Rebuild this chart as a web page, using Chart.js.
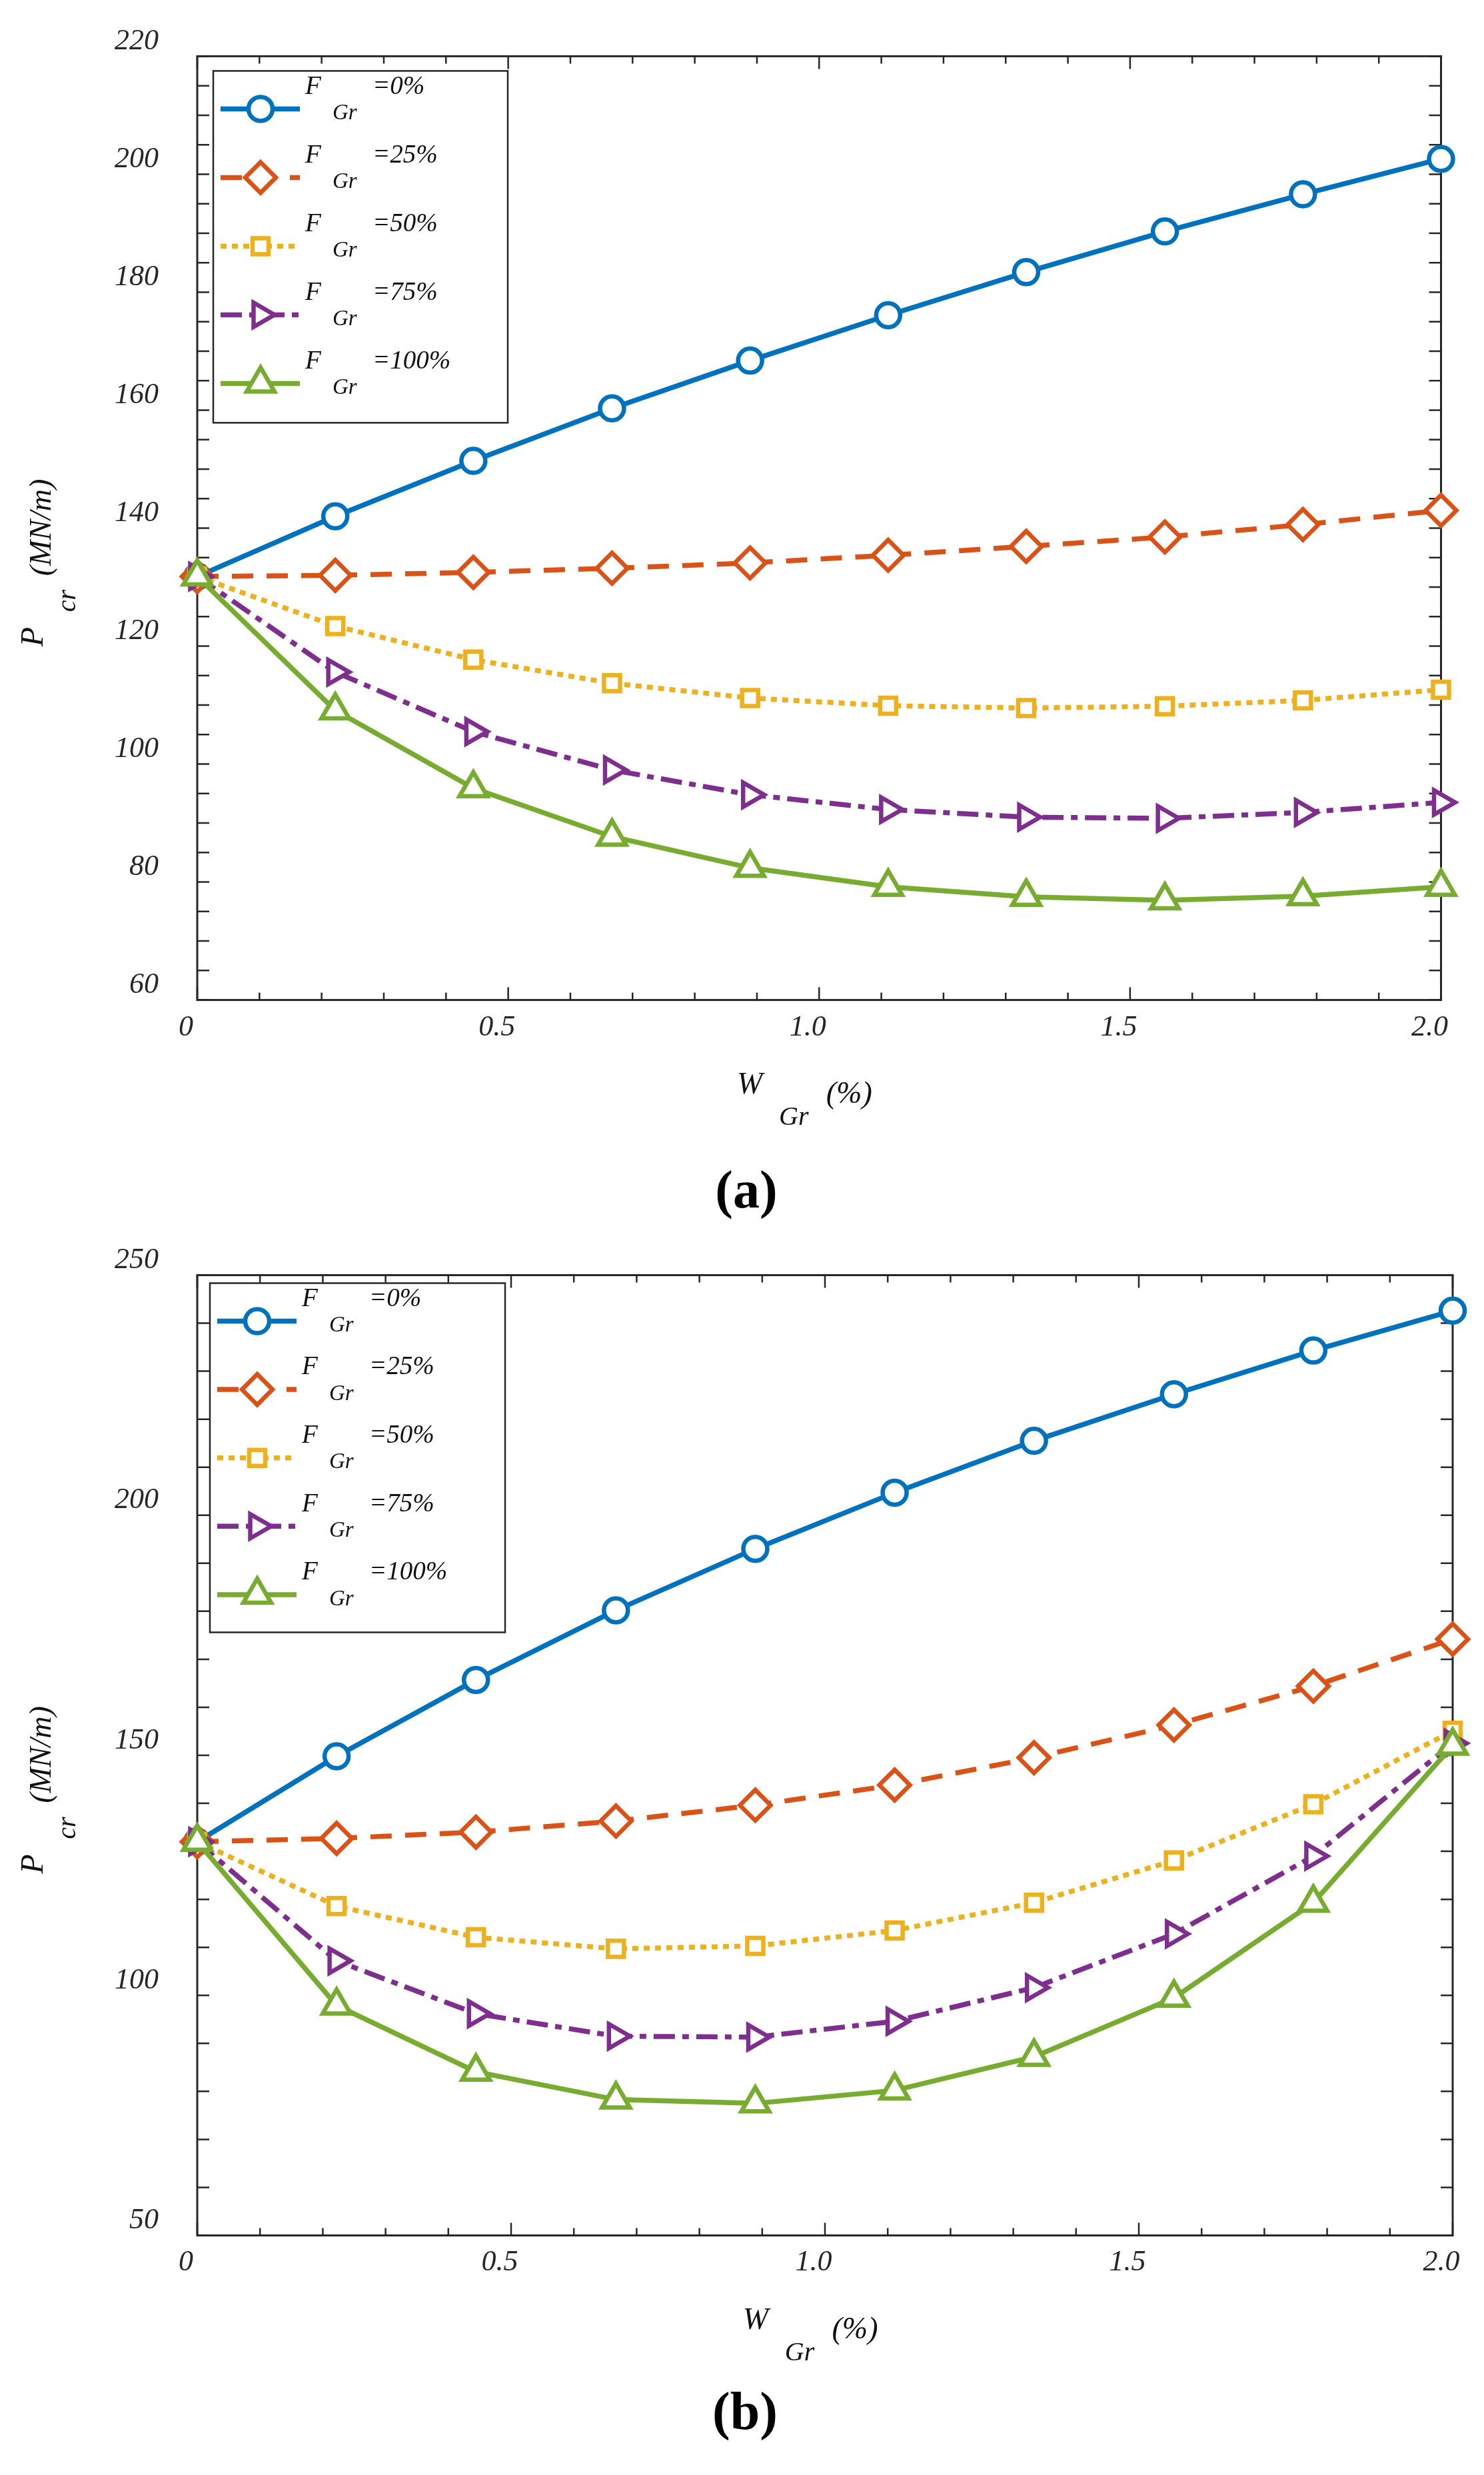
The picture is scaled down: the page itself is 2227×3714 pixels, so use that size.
<!DOCTYPE html>
<html>
<head>
<meta charset="utf-8">
<script src="https://cdn.jsdelivr.net/npm/chart.js@4.4.1/dist/chart.umd.min.js"></script>
<style>
  html, body { margin: 0; padding: 0; background: #fff; }
  #page { position: relative; width: 2227px; height: 3714px; overflow: hidden; background: #fff; }
  canvas { position: absolute; left: 0; }
  .cap { position: absolute; font-family: "Liberation Serif", serif; font-weight: bold; font-size: 80px;
         line-height: 1; color: #000; transform: translate(-50%, -50%); z-index: 2; }
</style>
</head>
<body>
<div id="page">
  <canvas id="chartA" width="2227" height="1720" style="top:0px;width:2227px;height:1720px"></canvas>
  <canvas id="chartB" width="2227" height="1780" style="top:1800px;width:2227px;height:1780px"></canvas>
  <div class="cap" style="left:1120px;top:1785px">(a)</div>
  <div class="cap" style="left:1118px;top:3618px">(b)</div>
</div>
<script>
// x values: W_Gr (%)
const X_WGR = [0, 0.222, 0.444, 0.667, 0.889, 1.111, 1.333, 1.556, 1.778, 2.0];
const X_TICKS = [0, 0.5, 1.0, 1.5, 2.0];
const LEGEND_LABELS = ['=0%', '=25%', '=50%', '=75%', '=100%'];

// (a)
const A_YTICKS = [60, 80, 100, 120, 140, 160, 180, 200, 220];
const A_F0   = [131.8, 142.0, 151.4, 160.3, 168.4, 176.1, 183.4, 190.3, 196.6, 202.6];
const A_F25  = [131.8, 132.0, 132.5, 133.2, 134.1, 135.4, 136.9, 138.5, 140.6, 143.0];
const A_F50  = [131.8, 123.4, 117.7, 113.7, 111.2, 109.9, 109.5, 109.8, 110.8, 112.6];
const A_F75  = [131.8, 115.6, 105.5, 99.0, 94.8, 92.3, 91.0, 90.8, 91.8, 93.5];
const A_F100 = [131.8, 109.1, 95.9, 87.7, 82.4, 79.2, 77.5, 76.9, 77.6, 79.2];

// (b)
const B_YTICKS = [50, 100, 150, 200, 250];
const B_F0   = [132.0, 149.8, 165.7, 180.2, 193.0, 204.7, 215.5, 225.2, 234.3, 242.6];
const B_F25  = [132.0, 132.7, 134.0, 136.3, 139.6, 143.8, 149.5, 156.3, 164.4, 174.2];
const B_F50  = [132.0, 118.6, 112.1, 109.7, 110.3, 113.5, 119.3, 128.1, 139.8, 155.1];
const B_F75  = [132.0, 107.2, 96.2, 91.5, 91.3, 94.6, 101.6, 112.8, 129.0, 152.5];
const B_F100 = [132.0, 97.9, 84.1, 78.3, 77.5, 80.2, 87.2, 99.5, 119.3, 152.0];

const SERIF = '"Liberation Serif", "Times New Roman", serif';
const AXIS_COLOR = '#262626';

const STYLES = [
  { color: '#0072BD', pointStyle: 'circle',   radius: 18, rotation: 0,  dash: [] },
  { color: '#D95319', pointStyle: 'rectRot',  radius: 23, rotation: 0,  dash: [32, 20] },
  { color: '#EDB120', pointStyle: 'rect',     radius: 17, rotation: 0,  dash: [9, 8] },
  { color: '#7E2F8E', pointStyle: 'triangle', radius: 21, rotation: 90, dash: [32, 11, 10, 11] },
  { color: '#77AC30', pointStyle: 'triangle', radius: 24, rotation: 0,  dash: [] }
];

function makeDatasets(series) {
  return series.map((vals, i) => {
    const s = STYLES[i];
    return {
      label: LEGEND_LABELS[i],
      data: vals.map((v, k) => ({ x: X_WGR[k], y: v })),
      borderColor: s.color,
      borderWidth: 7.5,
      borderDash: s.dash,
      borderCapStyle: 'butt',
      tension: 0,
      pointStyle: s.pointStyle,
      pointRadius: s.radius,
      pointRotation: s.rotation,
      pointBorderWidth: 6.5,
      pointBorderColor: s.color,
      pointBackgroundColor: '#fff',
      clip: false,
      order: 5 - i   // last series drawn on top, like the original
    };
  });
}

// box with inward ticks on all four sides
const framePlugin = {
  id: 'frame',
  beforeDatasetsDraw(chart, args, o) {
    const { ctx, chartArea: a, scales: { x, y } } = chart;
    ctx.save();
    ctx.strokeStyle = AXIS_COLOR;
    ctx.lineWidth = 3;
    ctx.setLineDash([]);
    ctx.strokeRect(a.left, a.top, a.right - a.left, a.bottom - a.top);
    ctx.beginPath();
    for (let i = 0; i <= 20; i++) {
      const px = x.getPixelForValue(i / 10);
      const len = i % 5 === 0 ? 19 : 11;
      ctx.moveTo(px, a.bottom); ctx.lineTo(px, a.bottom - len);
      ctx.moveTo(px, a.top); ctx.lineTo(px, a.top + len);
    }
    const n = Math.round((y.max - y.min) / o.yMinor);
    for (let i = 0; i <= n; i++) {
      const py = y.getPixelForValue(y.min + i * o.yMinor);
      ctx.moveTo(a.left, py); ctx.lineTo(a.left + 18, py);
      ctx.moveTo(a.right, py); ctx.lineTo(a.right - 18, py);
    }
    ctx.lineWidth = 2.5;
    ctx.stroke();
    ctx.restore();
  }
};

// legend box with F_Gr labels (subscript)
const legendPlugin = {
  id: 'grLegend',
  afterDraw(chart, args, o) {
    const { ctx, chartArea: a } = chart;
    const bx = a.left + o.dx, by = a.top + o.dy;
    ctx.save();
    ctx.fillStyle = '#fff';
    ctx.fillRect(bx, by, o.w, o.h);
    ctx.strokeStyle = AXIS_COLOR;
    ctx.lineWidth = 2.5;
    ctx.strokeRect(bx, by, o.w, o.h);
    chart.data.datasets.forEach((ds, i) => {
      const ry = by + o.firstRow + i * o.rowGap;
      ctx.strokeStyle = ds.borderColor;
      ctx.lineWidth = ds.borderWidth;
      ctx.lineCap = 'butt';
      ctx.setLineDash(ds.borderDash);
      ctx.beginPath();
      ctx.moveTo(bx + 11, ry);
      ctx.lineTo(bx + 130, ry);
      ctx.stroke();
      ctx.setLineDash([]);
      ctx.fillStyle = '#fff';
      ctx.lineWidth = ds.pointBorderWidth;
      Chart.helpers.drawPoint(ctx, {
        pointStyle: ds.pointStyle, rotation: ds.pointRotation,
        radius: ds.pointRadius, borderWidth: ds.pointBorderWidth
      }, bx + 71, ry);
      ctx.fillStyle = '#111';
      ctx.textAlign = 'left';
      ctx.textBaseline = 'middle';
      ctx.font = 'italic 39px ' + SERIF;
      ctx.fillText('F', bx + 138, ry - 33);
      ctx.fillText(ds.label, bx + 239, ry - 33);
      ctx.font = 'italic 33px ' + SERIF;
      ctx.fillText('Gr', bx + 179, ry + 7);
    });
    ctx.restore();
  }
};

// axis titles P_cr (MN/m) and W_Gr (%)
const titlePlugin = {
  id: 'axTitles',
  afterDraw(chart) {
    const { ctx, chartArea: a } = chart;
    const cx = (a.left + a.right) / 2, cy = (a.top + a.bottom) / 2;
    ctx.save();
    ctx.fillStyle = '#111';
    ctx.textAlign = 'center';
    ctx.textBaseline = 'middle';
    ctx.font = 'italic 46px ' + SERIF;
    ctx.fillText('W', cx - 104, a.bottom + 128);
    ctx.fillText('(%)', cx + 45, a.bottom + 142);
    ctx.font = 'italic 40px ' + SERIF;
    ctx.fillText('Gr', cx - 38, a.bottom + 177);

    const rot = (txt, font, x, y) => {
      ctx.save();
      ctx.translate(x, y);
      ctx.rotate(-Math.PI / 2);
      ctx.font = font;
      ctx.fillText(txt, 0, 0);
      ctx.restore();
    };
    rot('P', 'italic 48px ' + SERIF, 51, cy + 163);
    rot('cr', 'italic 40px ' + SERIF, 102, cy + 109);
    rot('(MN/m)', 'italic 46px ' + SERIF, 64, cy - 1);
    ctx.restore();
  }
};

function makeChart(id, series, cfg) {
  const tickFont = { family: SERIF, style: 'italic', size: 44 };
  return new Chart(document.getElementById(id), {
    type: 'line',
    data: { datasets: makeDatasets(series) },
    options: {
      responsive: false,
      maintainAspectRatio: false,
      animation: false,
      devicePixelRatio: 1,
      layout: { padding: { left: 0, right: cfg.padRight, top: cfg.padTop, bottom: 0 } },
      plugins: {
        legend: { display: false },
        tooltip: { enabled: false },
        frame: { yMinor: cfg.yMinor },
        grLegend: cfg.legend
      },
      scales: {
        x: {
          type: 'linear', min: 0, max: 2,
          afterBuildTicks: s => { s.ticks = X_TICKS.map(v => ({ value: v })); },
          afterFit: s => { s.height = cfg.xHeight; },
          grid: { display: false, drawTicks: false },
          border: { display: false },
          ticks: {
            font: tickFont, color: AXIS_COLOR, padding: 15, labelOffset: -17,
            maxRotation: 0, autoSkip: false,
            callback: v => (v === 0 ? '0' : v.toFixed(1))
          }
        },
        y: {
          type: 'linear', min: cfg.yTicks[0], max: cfg.yTicks[cfg.yTicks.length - 1],
          afterBuildTicks: s => { s.ticks = cfg.yTicks.map(v => ({ value: v })); },
          afterFit: s => { s.width = 296; },
          grid: { display: false, drawTicks: false },
          border: { display: false },
          ticks: {
            font: tickFont, color: AXIS_COLOR, padding: 58, labelOffset: -22,
            autoSkip: false, callback: v => String(v)
          }
        }
      }
    },
    plugins: [framePlugin, legendPlugin, titlePlugin]
  });
}

makeChart('chartA', [A_F0, A_F25, A_F50, A_F75, A_F100], {
  yTicks: A_YTICKS, yMinor: 5, padTop: 76.5, padRight: 64.5, xHeight: 219.4,
  legend: { dx: 24, dy: 22, w: 442, h: 528, firstRow: 57, rowGap: 103 }
});

makeChart('chartB', [B_F0, B_F25, B_F50, B_F75, B_F100], {
  yTicks: B_YTICKS, yMinor: 10, padTop: 113.5, padRight: 47, xHeight: 225.5,
  legend: { dx: 19, dy: 12, w: 443, h: 524, firstRow: 57, rowGap: 102.6 }
});
</script>
</body>
</html>
